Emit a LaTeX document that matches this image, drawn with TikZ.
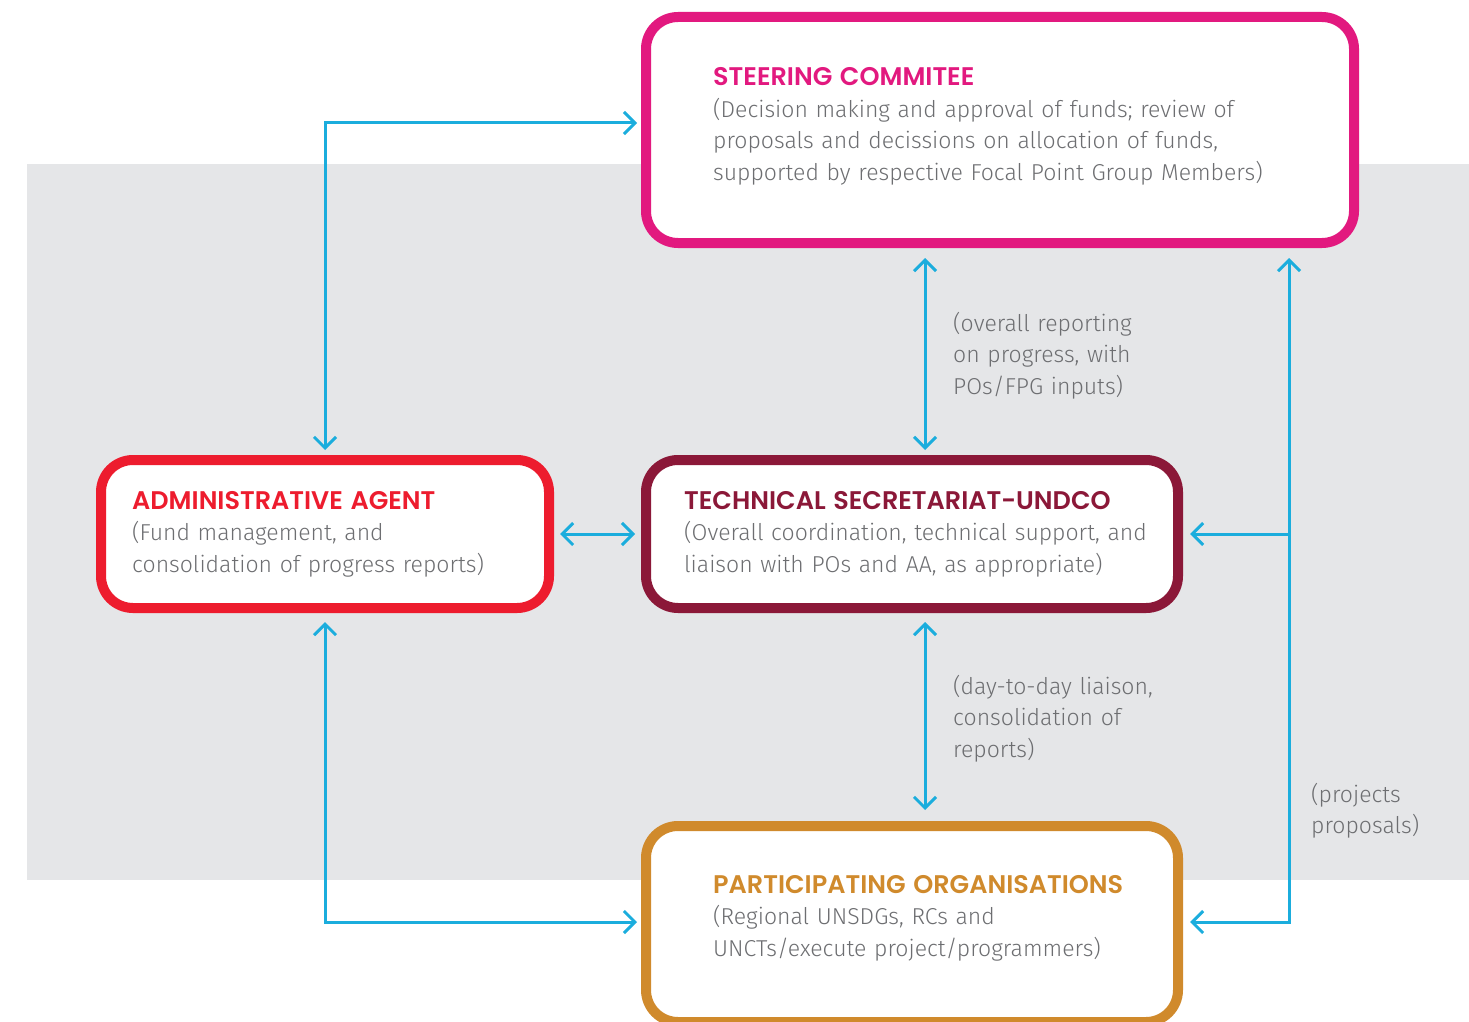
\documentclass[tikz,border=0pt]{standalone}
\usepackage{fontspec}
\usepackage{tikz}
\usetikzlibrary{arrows.meta}
\setmainfont{Fira Sans Light}
\newfontfamily\headfont{Poppins SemiBold}
\definecolor{steercol}{HTML}{E2197F}
\definecolor{admincol}{HTML}{ED1C2E}
\definecolor{techcol}{HTML}{8B1838}
\definecolor{partcol}{HTML}{D08A2C}
\definecolor{linkblue}{HTML}{1BADDD}
\definecolor{textgray}{HTML}{6D6E71}
\definecolor{bandgray}{HTML}{E5E6E8}
\newcommand{\headtxt}[2]{\textcolor{#1}{\headfont\fontsize{25.5}{31.5}\selectfont #2}}

\begin{document}
\begin{tikzpicture}[x=1pt, y=-1pt,
  >={Straight Barb[length=11pt,width=22pt]},
  box/.style={draw=#1, line width=10pt, rounded corners=32pt, fill=white, inner sep=0pt},
  txt/.style={anchor=base west, align=left, text width=600pt, inner sep=0pt, text=textgray, font=\fontsize{23}{31.5}\selectfont},
  link/.style={draw=linkblue, line width=3pt, shorten <=6pt, shorten >=6pt}]
\useasboundingbox (0,0) rectangle (1469,1022);
\fill[bandgray] (27,164) rectangle (1469,880);

% boxes
\node[box=steercol, minimum width=708pt, minimum height=226pt] (steer) at (1000,130) {};
\node[box=admincol, minimum width=448pt, minimum height=148pt] (admin) at (325,534) {};
\node[box=techcol, minimum width=532pt, minimum height=148pt] (tech) at (912,534) {};
\node[box=partcol, minimum width=532pt, minimum height=196pt] (part) at (912,924) {};

% texts
\node[txt] (steertxt) at (713,86) {\headtxt{steercol}{STEERING COMMITEE}\\(Decision making and approval of funds; review of\\proposals and decissions on allocation of funds,\\supported by respective Focal Point Group Members)};
\node[txt] (admintxt) at (132,509) {\headtxt{admincol}{ADMINISTRATIVE AGENT}\\(Fund management, and\\consolidation of progress reports)};
\node[txt] (techtxt) at (684,509) {\headtxt{techcol}{TECHNICAL SECRETARIAT-UNDCO}\\(Overall coordination, technical support, and\\liaison with POs and AA, as appropriate)};
\node[txt] (parttxt) at (713,893) {\headtxt{partcol}{PARTICIPATING ORGANISATIONS}\\(Regional UNSDGs, RCs and\\UNCTs/execute project/programmers)};

% links
\draw[link, <->, shorten <=4pt, shorten >=5pt] ([yshift=7pt]steer.west) -| (admin.north);
\draw[link, <->] (admin.east) -- (tech.west);
\draw[link, <->, shorten <=10pt, shorten >=5pt] ([xshift=13pt]tech.north |- steer.south) -- ([xshift=13pt]tech.north);
\draw[link, <->, shorten <=9pt, shorten >=11pt] ([xshift=13pt]tech.south) -- ([xshift=13pt]part.north);
\draw[link, <->, shorten <=9pt, shorten >=4pt] (admin.south) |- ([yshift=2pt]part.west);
\coordinate (jn) at ([xshift=289pt]steer.south |- tech.east);
\draw[link, <->, shorten <=10pt, shorten >=7pt] ([xshift=289pt]steer.south) |- ([yshift=2pt]part.east);
\draw[link, ->, shorten <=0pt, shorten >=7pt] (jn) -- (tech.east);

% labels
\node[txt] (reportlbl) at (953,331) {(overall reporting\\on progress, with\\POs/FPG inputs)};
\node[txt] (liaisonlbl) at (953,694) {(day-to-day liaison,\\consolidation of\\reports)};
\node[txt] (projlbl) at (1311,802) {(projects\\proposals)};
\end{tikzpicture}
\end{document}
